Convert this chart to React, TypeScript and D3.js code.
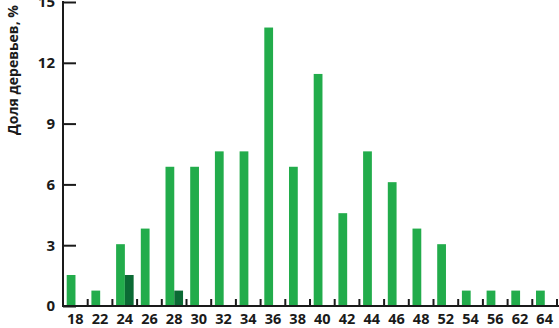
import React, { useEffect, useRef } from 'react';
import * as d3 from 'd3';

// diameter classes, cm
const categories = ['18', '22', '24', '26', '28', '30', '32', '34', '36', '38', '40', '42', '44', '46', '48', '52', '54', '56', '62', '64'];
// share of trees, %
const seriesLight = [1.53, 0.76, 3.05, 3.82, 6.87, 6.87, 7.63, 7.63, 13.74, 6.87, 11.45, 4.58, 7.63, 6.11, 3.82, 3.05, 0.76, 0.76, 0.76, 0.76];
const seriesDark = [0, 0, 1.53, 0, 0.76, 0, 0, 0, 0, 0, 0, 0, 0, 0, 0, 0, 0, 0, 0, 0];
const yTicks = [0, 3, 6, 9, 12, 15];

const W = 559;
const H = 328;

function App() {
  const svgRef = useRef<SVGSVGElement>(null);

  useEffect(() => {
    const svg = d3.select(svgRef.current);
    svg.selectAll('*').remove();

    const margin = { top: 2, right: 2, bottom: 22, left: 63 };
    const font = '"Open Sans", "DejaVu Sans", sans-serif';

    const x = d3.scaleBand()
      .domain(categories)
      .range([margin.left, W - margin.right]);

    const y = d3.scaleLinear()
      .domain([0, 15])
      .range([H - margin.bottom, margin.top]);

    // two bars per class, side by side
    const bw = x.bandwidth();
    const inner = d3.scaleBand()
      .domain(['light', 'dark'])
      .range([bw * 0.15, bw * 0.86])
      .padding(0);

    const g = svg.append('g');

    categories.forEach((c, i) => {
      const x0 = x(c) as number;
      g.append('rect')
        .attr('x', x0 + (inner('light') as number))
        .attr('y', y(seriesLight[i]))
        .attr('width', inner.bandwidth())
        .attr('height', y(0) - y(seriesLight[i]))
        .attr('fill', '#22ac4b');
      if (seriesDark[i] > 0) {
        g.append('rect')
          .attr('x', x0 + (inner('dark') as number))
          .attr('y', y(seriesDark[i]))
          .attr('width', inner.bandwidth())
          .attr('height', y(0) - y(seriesDark[i]))
          .attr('fill', '#0b6a34');
      }
    });

    // y axis
    const yAxis = svg.append('g')
      .attr('transform', `translate(${margin.left},0)`)
      .call(d3.axisRight(y).tickValues(yTicks).tickSize(13).tickFormat(() => ''));
    yAxis.select('.domain').remove();
    yAxis.selectAll('line').attr('stroke', '#1a1a1a').attr('stroke-width', 2);

    svg.append('line')
      .attr('x1', margin.left).attr('x2', margin.left)
      .attr('y1', y(15) - 1).attr('y2', y(0) + 1)
      .attr('stroke', '#1a1a1a').attr('stroke-width', 2);

    svg.selectAll('.ylab')
      .data(yTicks)
      .enter().append('text')
      .attr('x', margin.left - 8)
      .attr('y', d => y(d))
      .attr('dy', '0.36em')
      .attr('text-anchor', 'end')
      .style('font-family', font)
      .style('font-weight', 700)
      .style('font-size', '15px')
      .attr('fill', '#1a1a1a')
      .text(d => d);

    // x axis
    svg.append('line')
      .attr('x1', margin.left).attr('x2', W)
      .attr('y1', y(0)).attr('y2', y(0))
      .attr('stroke', '#1a1a1a').attr('stroke-width', 2);

    svg.selectAll('.xtick')
      .data(categories)
      .enter().append('line')
      .attr('x1', d => (x(d) as number) + bw)
      .attr('x2', d => (x(d) as number) + bw)
      .attr('y1', y(0))
      .attr('y2', y(0) - 7)
      .attr('stroke', '#1a1a1a')
      .attr('stroke-width', 2);

    svg.selectAll('.xlab')
      .data(categories)
      .enter().append('text')
      .attr('x', d => (x(d) as number) + bw / 2)
      .attr('y', H - 4)
      .attr('text-anchor', 'middle')
      .style('font-family', font)
      .style('font-weight', 700)
      .style('font-size', '14.5px')
      .attr('fill', '#1a1a1a')
      .text(d => d);

    // y axis title
    svg.append('text')
      .attr('transform', `translate(13,${70}) rotate(-90)`)
      .attr('dy', '0.35em')
      .attr('text-anchor', 'middle')
      .style('font-family', font)
      .style('font-weight', 700)
      .style('font-size', '14px')
      .attr('fill', '#1a1a1a')
      .text('Доля деревьев, %');
  }, []);

  return (
    <div style={{ position: 'absolute', left: 0, top: 0 }}>
      <svg ref={svgRef} width={W} height={H}></svg>
    </div>
  );
}

export default App;
